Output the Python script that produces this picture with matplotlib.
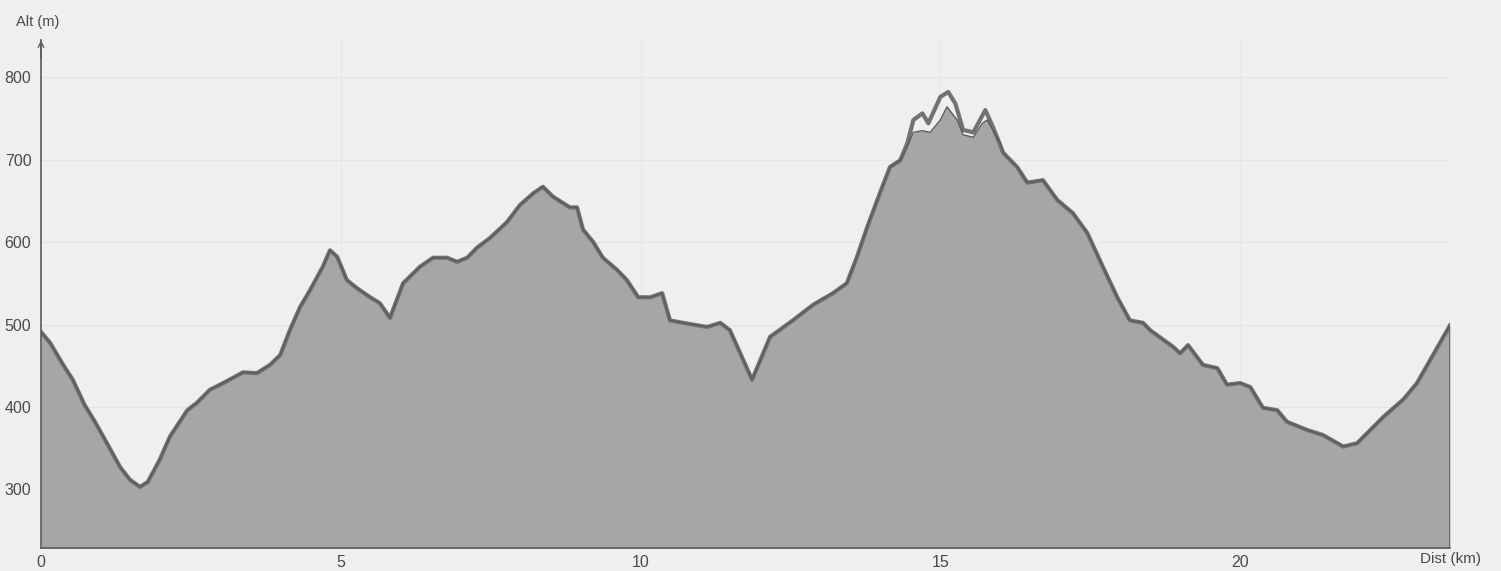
"""Elevation profile: altitude (m) against distance (km)."""
import matplotlib
matplotlib.use("Agg")
import matplotlib.pyplot as plt  # noqa: E402
import numpy as np  # noqa: E402

# main trace (the thick grey line)
dist = [0.00, 0.15, 0.37, 0.53, 0.73, 0.90, 1.10, 1.32, 1.48, 1.65, 1.78, 1.98,
        2.15, 2.44, 2.60, 2.82, 3.04, 3.37, 3.60, 3.82, 3.99, 4.15, 4.32, 4.49,
        4.70, 4.82, 4.94, 5.10, 5.27, 5.49, 5.65, 5.82, 6.04, 6.32, 6.54, 6.77,
        6.94, 7.11, 7.27, 7.49, 7.77, 7.99, 8.21, 8.37, 8.54, 8.82, 8.94, 9.04,
        9.21, 9.37, 9.61, 9.77, 9.96, 10.16, 10.36, 10.49, 10.71, 11.11, 11.33,
        11.49, 11.86, 12.16, 12.54, 12.88, 13.21, 13.44, 13.61, 13.78, 13.99,
        14.16, 14.33, 14.45, 14.55, 14.70, 14.80, 15.00, 15.13, 15.25, 15.38,
        15.55, 15.75, 15.88, 16.05, 16.28, 16.45, 16.71, 16.95, 17.21, 17.45,
        17.71, 17.95, 18.16, 18.38, 18.50, 18.88, 19.00, 19.13, 19.38, 19.62,
        19.78, 20.00, 20.17, 20.38, 20.62, 20.78, 21.12, 21.38, 21.72, 21.95,
        22.17, 22.39, 22.72, 22.95, 23.17, 23.39, 23.50]
alt = [491, 478, 451, 433, 402, 382, 356, 327, 312, 303, 309, 336,
       364, 396, 405, 421, 429, 442, 441, 451, 463, 493, 521, 542,
       570, 590, 582, 554, 544, 533, 526, 508, 550, 570, 581, 581,
       576, 581, 593, 605, 624, 645, 659, 667, 655, 642, 642, 615,
       600, 581, 566, 554, 533, 533, 538, 505, 502, 497, 502,
       493, 433, 485, 505, 524, 538, 550, 582, 618, 659,
       691, 699, 720, 748, 756, 744, 776, 782, 768, 736,
       733, 760, 739, 708, 691, 672, 675, 651, 635, 611,
       570, 533, 505, 502, 493, 473, 465, 475, 451, 447,
       427, 429, 424, 399, 396, 382, 372, 366, 352, 356,
       372, 388, 409, 429, 457, 485, 499]

# second trace over the summit, where it runs below the main one
summit_dist = [14.45, 14.55, 14.70, 14.83, 15.00, 15.11, 15.28, 15.38, 15.55,
               15.70, 15.78, 16.00]
summit_alt = [716, 733, 735, 733, 748, 764, 748, 730, 727, 744, 748, 720]

x_ticks = [0, 5, 10, 15, 20]
y_ticks = [300, 400, 500, 600, 700, 800]

BG = "#efefef"
FILL = "#a6a6a6"
EDGE = "#727272"
TXT = "#4a4a4a"

plt.rcParams["font.family"] = ["Liberation Sans", "DejaVu Sans"]

d = np.array(dist)
a = np.array(alt)
lo = (d < summit_dist[0])
hi = (d > summit_dist[-1])
fill_d = np.concatenate([d[lo], summit_dist, d[hi]])
fill_a = np.concatenate([a[lo], summit_alt, a[hi]])

fig = plt.figure(figsize=(15.01, 5.71), dpi=100, facecolor=BG)
ax = fig.add_axes([41 / 1501, 23 / 571, 1409 / 1501, 508 / 571])
ax.set_facecolor(BG)

ax.set_xlim(0, 23.5)
ax.set_ylim(229, 845)

for y in y_ticks:
    ax.axhline(y, color="#e4e4e4", lw=0.8, zorder=0)
for x in x_ticks[1:]:
    ax.axvline(x, color="#e7e7e7", lw=0.8, zorder=0)

ax.fill_between(fill_d, fill_a, 229, color=FILL, lw=0, zorder=1)
ax.plot(d, a, color=EDGE, lw=3.0, solid_joinstyle="round", zorder=2)
ax.plot(fill_d, fill_a, color="#5a5a5a", lw=1.0, zorder=3)
ax.plot([23.5, 23.5], [229, alt[-1]], color="#5a5a5a", lw=1.2, zorder=3)

for s in ["top", "right"]:
    ax.spines[s].set_visible(False)
for s in ["left", "bottom"]:
    ax.spines[s].set_color("#5a5a5a")
    ax.spines[s].set_linewidth(1.2)
ax.spines["left"].set_bounds(229, 845)

ax.annotate("", xy=(0, 1.005), xytext=(0, 0.96), xycoords="axes fraction",
            arrowprops=dict(arrowstyle="->", color="#5a5a5a", lw=1.0,
                            mutation_scale=10))

ax.set_xticks(x_ticks)
ax.set_yticks(y_ticks)
ax.set_xticklabels([str(v) for v in x_ticks])
ax.set_yticklabels([str(v) for v in y_ticks])
ax.tick_params(length=0, colors=TXT, labelsize=11.5)
ax.tick_params(axis="x", pad=5)
ax.tick_params(axis="y", pad=7)

fig.text(38 / 1501, 1 - 22 / 571, "Alt (m)", ha="center", va="center",
         fontsize=10.5, color=TXT)
fig.text(1451 / 1501, 1 - 559 / 571, "Dist (km)", ha="center", va="center",
         fontsize=11, color=TXT)

fig.savefig("out.png", dpi=100, facecolor=BG)
